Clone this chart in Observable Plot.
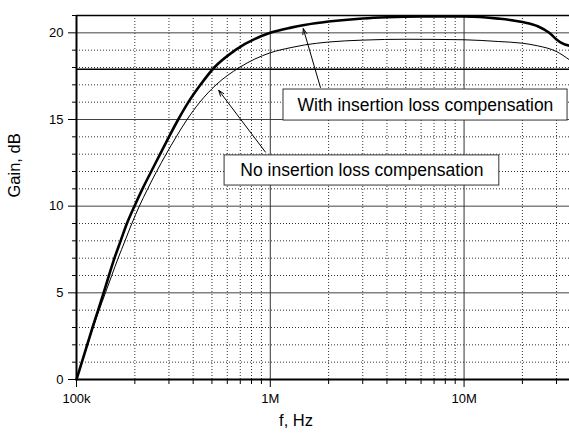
<!DOCTYPE html>
<html>
<head>
<meta charset="utf-8">
<script src="https://cdn.jsdelivr.net/npm/d3@7"></script>
<script src="https://cdn.jsdelivr.net/npm/@observablehq/plot@0.6"></script>
<style>
  html, body { margin: 0; padding: 0; background: #fff; }
  #chart svg { display: block; }
</style>
</head>
<body>
<div id="chart"></div>
<script>
// Curve with insertion loss compensation (thick)
const freqWith = [1e5, 1.21e5, 1.38e5, 1.47e5, 1.57e5, 1.69e5, 1.82e5, 1.99e5, 2.19e5, 2.43e5, 2.70e5, 3.0e5, 3.35e5, 3.78e5, 4.36e5, 5.14e5, 6.59e5, 1e6, 1.28e6, 1.5e6, 2e6, 3e6, 4e6, 6e6, 1e7, 1.5e7, 2e7, 2.4e7, 2.75e7, 3e7, 3.2e7, 3.5e7];
const gainWith = [0, 3, 5, 6, 7, 8, 9, 10, 11, 12, 13, 14, 15, 16, 17, 18, 19, 20, 20.3, 20.45, 20.65, 20.83, 20.9, 20.94, 20.94, 20.82, 20.62, 20.38, 20.0, 19.62, 19.4, 19.25];
// Curve without insertion loss compensation (thin)
const freqNo = [1e5, 1.2e5, 1.41e5, 1.52e5, 1.64e5, 1.78e5, 1.93e5, 2.11e5, 2.33e5, 2.59e5, 2.90e5, 3.27e5, 3.72e5, 4.33e5, 5.25e5, 6.93e5, 1e6, 1.28e6, 1.5e6, 2e6, 3e6, 5e6, 1e7, 1.5e7, 2e7, 2.4e7, 3e7, 3.5e7];
const gainNo = [0, 2.8, 5, 6, 7, 8, 9, 10, 11, 12, 13, 14, 15, 16, 17, 18, 18.85, 19.15, 19.3, 19.47, 19.58, 19.63, 19.6, 19.5, 19.4, 19.25, 18.92, 18.44];

// Reference level
const refLevel = [17.9];

// Ticks
const xMajor = [1e5, 1e6, 1e7];
const xMajorLabels = ["100k", "1M", "10M"];
const xMinor = [2e5,3e5,4e5,5e5,6e5,7e5,8e5,9e5,2e6,3e6,4e6,5e6,6e6,7e6,8e6,9e6,2e7,3e7];
const yMajor = [0, 5, 10, 15, 20];
const yMinor = [1,2,3,4,6,7,8,9,11,12,13,14,16,17,18,19,21];

// Annotations
const notes = ["With insertion loss compensation", "No insertion loss compensation"];
const noteX = [6.32e6, 2.97e6];
const noteY = [15.84, 12.06];
const boxX1 = [1.17e6, 5.81e5];
const boxX2 = [3.42e7, 1.52e7];
const boxY1 = [14.94, 11.19];
const boxY2 = [16.73, 12.93];
const arrowX1 = [1.815e6, 9.44e5];
const arrowY1 = [16.85, 13.12];
const arrowX2 = [1.48e6, 5.42e5];
const arrowY2 = [20.24, 16.68];

const dataWith = freqWith.map((f, i) => ({f, g: gainWith[i]}));
const dataNo = freqNo.map((f, i) => ({f, g: gainNo[i]}));
const noteData = notes.map((t, i) => ({
  t, x: noteX[i], y: noteY[i],
  bx1: boxX1[i], bx2: boxX2[i], by1: boxY1[i], by2: boxY2[i],
  ax1: arrowX1[i], ay1: arrowY1[i], ax2: arrowX2[i], ay2: arrowY2[i]
}));
const labelMap = new Map(xMajor.map((v, i) => [v, xMajorLabels[i]]));

const font = "'Liberation Sans', Arial, Helvetica, sans-serif";

const chart = Plot.plot({
  width: 569,
  height: 433,
  marginLeft: 76,
  marginRight: 0,
  marginTop: 15,
  marginBottom: 54,
  style: {fontFamily: font, fontSize: "13px", color: "#000", background: "#fff"},
  x: {type: "log", domain: [1e5, 3.5e7], axis: null},
  y: {domain: [0, 21], axis: null},
  marks: [
    // minor grid (dotted)
    Plot.ruleY(yMinor, {stroke: "#333", strokeWidth: 1, strokeDasharray: "1,2"}),
    Plot.ruleX(xMinor, {stroke: "#333", strokeWidth: 1, strokeDasharray: "1,2"}),
    // major grid (solid)
    Plot.ruleY(yMajor.filter(d => d > 0), {stroke: "#444", strokeWidth: 1}),
    Plot.ruleX(xMajor.filter(d => d > 1e5), {stroke: "#333", strokeWidth: 1}),
    // reference level
    Plot.ruleY(refLevel, {stroke: "#000", strokeWidth: 1.6}),
    // curves
    Plot.line(dataNo, {x: "f", y: "g", stroke: "#000", strokeWidth: 1, curve: "monotone-x"}),
    Plot.line(dataWith, {x: "f", y: "g", stroke: "#000", strokeWidth: 2.6, curve: "monotone-x"}),
    // annotation boxes
    Plot.rect(noteData, {x1: "bx1", x2: "bx2", y1: "by1", y2: "by2", fill: "#fff", stroke: "#333", strokeWidth: 1}),
    Plot.text(noteData, {x: "x", y: "y", text: "t", fontSize: 17.5, fill: "#000", fontFamily: font}),
    Plot.arrow(noteData, {x1: "ax1", y1: "ay1", x2: "ax2", y2: "ay2", stroke: "#000", strokeWidth: 1, headLength: 9, headAngle: 40}),
    // frame
    Plot.ruleY([21], {stroke: "#000", strokeWidth: 1.5}),
    Plot.ruleY([0], {stroke: "#000", strokeWidth: 2}),
    Plot.ruleX([1e5], {stroke: "#000", strokeWidth: 2}),
    // axes
    Plot.axisY(yMinor, {anchor: "left", tickSize: 4, tickFormat: () => "", stroke: "#000", label: null}),
    Plot.axisY(yMajor, {anchor: "left", tickSize: 8, tickPadding: 5, tickFormat: d => String(d), fontSize: 13, label: null, stroke: "#000"}),
    Plot.axisX(xMinor, {anchor: "bottom", tickSize: 5, tickFormat: () => "", stroke: "#000", label: null}),
    Plot.axisX(xMajor, {anchor: "bottom", tickSize: 8, tickPadding: 6, tickFormat: d => labelMap.get(d), fontSize: 13, label: null, stroke: "#000"}),
    // axis titles
    Plot.text(["Gain, dB"], {frameAnchor: "left", dx: -62, rotate: -90, fontSize: 16.5, fill: "#000"}),
    Plot.text(["f, Hz"], {frameAnchor: "bottom", dx: -27, dy: 46, fontSize: 16.5, fill: "#000"})
  ]
});

document.getElementById("chart").appendChild(chart);
</script>
</body>
</html>
